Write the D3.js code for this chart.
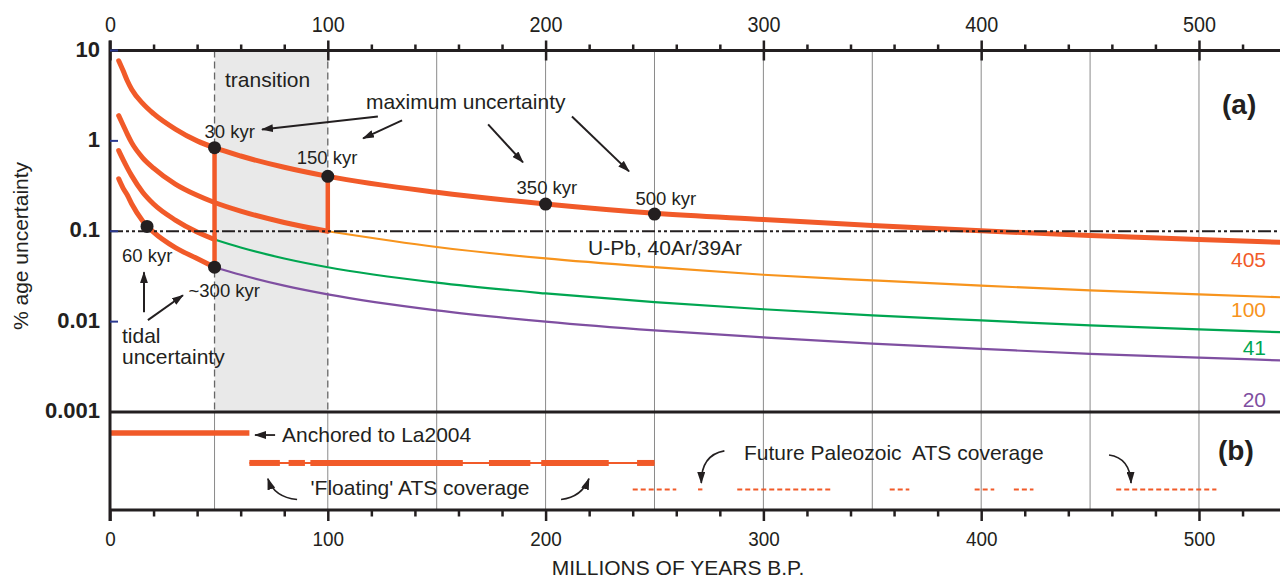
<!DOCTYPE html>
<html lang="en">
<head>
<meta charset="UTF-8" />
<title>Percent age uncertainty vs. age</title>
<script src="https://d3js.org/d3.v7.min.js"></script>
<style>
  body { margin: 0; background: #fff; }
  svg { font-family: "Liberation Sans", Arial, sans-serif; }
  svg text { fill: #231f20; }
</style>
</head>
<body>
<div id="chart"></div>
<script>
const ages    = [4, 6, 8, 10, 15, 20, 30, 40, 48, 60, 80, 100, 150, 200, 250, 300, 350, 400, 450, 500, 540];
const unc405  = [7.7, 6.0, 4.6, 3.7, 2.6, 2.0, 1.35, 1.0, 0.84, 0.68, 0.51, 0.405, 0.27, 0.2, 0.158, 0.135, 0.116, 0.101, 0.09, 0.081, 0.075];
const unc100  = [1.9, 1.5, 1.18, 0.95, 0.65, 0.5, 0.333, 0.25, 0.208, 0.167, 0.125, 0.1, 0.067, 0.05, 0.04, 0.033, 0.0286, 0.025, 0.0222, 0.02, 0.0185];
const unc41   = [0.78, 0.62, 0.5, 0.41, 0.27, 0.2, 0.133, 0.098, 0.081, 0.066, 0.05, 0.04, 0.027, 0.0205, 0.0164, 0.0137, 0.0117, 0.0103, 0.0091, 0.0082, 0.0076];
const unc20   = [0.38, 0.3, 0.25, 0.2, 0.13, 0.098, 0.066, 0.05, 0.04, 0.033, 0.025, 0.02, 0.0133, 0.01, 0.008, 0.0067, 0.0057, 0.005, 0.0044, 0.004, 0.0037];
const periods = ["405", "100", "41", "20"];
const thickTo = [540, 100, 48, 48];   // age where the tuned (red) part ends

// marked points: age, % uncertainty, label
const dotAges   = [48, 100, 200, 250, 17, 48];
const dotValues = [0.84, 0.405, 0.2, 0.155, 0.113, 0.04];
const dotLabels = ["30 kyr", "150 kyr", "350 kyr", "500 kyr", "60 kyr", "~300 kyr"];

// panel (b) coverage, in Ma
const anchored  = [[0, 64]];
const floatSpan = [64, 250];
const floating  = [[64, 78], [82, 89.5], [92, 162], [174, 193], [198, 229], [242, 250]];
const future    = [[240, 260], [270, 272], [288, 332], [358, 367], [397, 406], [415, 424], [462, 508]];

const transition = [48, 100];
const radioLevel = 0.1;
const decades = [10, 1, 0.1, 0.01, 0.001];
const xMajor = [0, 100, 200, 300, 400, 500];

const W = 1280, H = 578;
const RED = "#f15a29", INK = "#231f20";
const colors = [RED, "#f7941d", "#00a651", "#7f4fa1"];

const x = d3.scaleLinear().domain([0, 537.2]).range([110, 1280]);
const y = d3.scaleLog().domain([0.001, 10]).range([412, 50.5]);
const yTop = y(10), yMid = y(0.001), yBot = 510;
const yb = d3.scaleLinear().domain([0, 1]).range([yMid, yBot]);

const svg = d3.select("#chart").append("svg").attr("width", W).attr("height", H);

const defs = svg.append("defs");
defs.append("marker").attr("id", "head")
  .attr("viewBox", "0 0 12 8").attr("refX", 11).attr("refY", 4)
  .attr("markerWidth", 12).attr("markerHeight", 8)
  .attr("markerUnits", "userSpaceOnUse").attr("orient", "auto")
  .append("path").attr("d", "M0,0L12,4L0,8Z").attr("fill", INK);

// transition band + grid
svg.append("rect")
  .attr("x", x(transition[0])).attr("y", yTop)
  .attr("width", x(transition[1]) - x(transition[0])).attr("height", yMid - yTop)
  .attr("fill", "#e9e9e9");

const gridA = d3.range(150, 501, 50);
svg.selectAll(".gridA").data(gridA).join("line")
  .attr("x1", d => x(d)).attr("x2", d => x(d)).attr("y1", yTop).attr("y2", yMid)
  .attr("stroke", "#8a8a8a").attr("stroke-width", 1);
svg.selectAll(".gridT").data(transition).join("line")
  .attr("x1", d => x(d)).attr("x2", d => x(d)).attr("y1", yTop).attr("y2", yMid)
  .attr("stroke", "#666").attr("stroke-width", 1.3).attr("stroke-dasharray", "7,4");
svg.selectAll(".gridB").data(transition.concat(gridA)).join("line")
  .attr("x1", d => x(d)).attr("x2", d => x(d)).attr("y1", yMid).attr("y2", yBot)
  .attr("stroke", "#8a8a8a").attr("stroke-width", 1);

// curves
const line = d3.line().x(d => x(d[0])).y(d => y(d[1])).curve(d3.curveMonotoneX);
const series = [unc405, unc100, unc41, unc20].map((vals, i) => ({
  period: periods[i],
  color: colors[i],
  pts: ages.map((a, j) => [a, vals[j]]),
  cut: thickTo[i]
}));

series.forEach(s => {
  const thin = s.pts.filter(p => p[0] >= s.cut);
  if (thin.length > 1) {
    svg.append("path").attr("d", line(thin)).attr("fill", "none")
      .attr("stroke", s.color).attr("stroke-width", 2.2);
  }
});
series.forEach(s => {
  svg.append("path").attr("d", line(s.pts.filter(p => p[0] <= s.cut))).attr("fill", "none")
    .attr("stroke", RED).attr("stroke-width", 5).attr("stroke-linecap", "round");
});

// vertical red steps at the transition edges
const stepLines = [[48, 0.84, 0.04], [100, 0.405, 0.1]];
svg.selectAll(".step").data(stepLines).join("line")
  .attr("x1", d => x(d[0])).attr("x2", d => x(d[0]))
  .attr("y1", d => y(d[1])).attr("y2", d => y(d[2]))
  .attr("stroke", RED).attr("stroke-width", 4.5);

// radiometric level
svg.append("line")
  .attr("x1", x(0)).attr("x2", W).attr("y1", y(radioLevel)).attr("y2", y(radioLevel))
  .attr("stroke", INK).attr("stroke-width", 2.2).attr("stroke-dasharray", "13,3,3,3,3,3");

// dots + labels
const dotOffsets = [[-10, -10], [-31, -12], [-29, -10.5], [-19, -9], [-25, 36], [-26, 29.5]];
dotAges.forEach((a, i) => {
  svg.append("circle").attr("cx", x(a)).attr("cy", y(dotValues[i])).attr("r", 6.5).attr("fill", INK);
  svg.append("text").attr("x", x(a) + dotOffsets[i][0]).attr("y", y(dotValues[i]) + dotOffsets[i][1])
    .attr("font-size", 18.5).text(dotLabels[i]);
});

// series labels on the right
const labelDy = [24, 20, 23, 46];
series.forEach((s, i) => {
  const last = s.pts[s.pts.length - 1];
  svg.append("text").attr("x", 1266).attr("y", y(last[1]) + labelDy[i])
    .attr("text-anchor", "end").attr("font-size", 21).style("fill", s.color).text(s.period);
});

// annotations, panel (a)
const notesA = [
  ["transition", 52.8, 3.9], ["maximum uncertainty", 117.5, 2.23],
  ["U-Pb, 40Ar/39Ar", 219.5, 0.0543], ["tidal", 5.5, 0.0058], ["uncertainty", 5.5, 0.0034]
];
notesA.forEach(n => {
  svg.append("text").attr("x", x(n[1])).attr("y", y(n[2])).attr("font-size", 21).text(n[0]);
});
const arrowsA = [
  [123, 1.865, 69.8, 1.34], [134.1, 1.685, 116.2, 1.066],
  [173.6, 1.522, 189.6, 0.579], [212.1, 1.865, 238.3, 0.46],
  [15.6, 0.0127, 15.6, 0.0352], [17.4, 0.0104, 33.5, 0.0196]
];
svg.selectAll(".arrA").data(arrowsA).join("line")
  .attr("x1", d => x(d[0])).attr("y1", d => y(d[1]))
  .attr("x2", d => x(d[2])).attr("y2", d => y(d[3]))
  .attr("stroke", INK).attr("stroke-width", 2).attr("marker-end", "url(#head)");

svg.append("text").attr("x", 1222).attr("y", 114).attr("font-size", 28)
  .attr("font-weight", "bold").text("(a)");

// panel (b)
const rowAnch = 0.214, rowFloat = 0.52, rowFuture = 0.79;
svg.selectAll(".anch").data(anchored).join("line")
  .attr("x1", d => x(d[0])).attr("x2", d => x(d[1]))
  .attr("y1", yb(rowAnch)).attr("y2", yb(rowAnch))
  .attr("stroke", RED).attr("stroke-width", 5.5);
svg.append("line")
  .attr("x1", x(floatSpan[0])).attr("x2", x(floatSpan[1]))
  .attr("y1", yb(rowFloat)).attr("y2", yb(rowFloat))
  .attr("stroke", RED).attr("stroke-width", 2);
svg.selectAll(".float").data(floating).join("line")
  .attr("x1", d => x(d[0])).attr("x2", d => x(d[1]))
  .attr("y1", yb(rowFloat)).attr("y2", yb(rowFloat))
  .attr("stroke", RED).attr("stroke-width", 6);
svg.selectAll(".future").data(future).join("line")
  .attr("x1", d => x(d[0])).attr("x2", d => x(d[1]))
  .attr("y1", yb(rowFuture)).attr("y2", yb(rowFuture))
  .attr("stroke", RED).attr("stroke-width", 2).attr("stroke-dasharray", "5,3");

const notesB = [
  ["Anchored to La2004", 79, 0.311], ["'Floating' ATS coverage", 92.1, 0.847],
  ["Future Paleozoic  ATS coverage", 291.1, 0.485]
];
notesB.forEach(n => {
  svg.append("text").attr("x", x(n[1])).attr("y", yb(n[2])).attr("font-size", 21)
    .style("white-space", "pre").text(n[0]);
});
svg.append("line")
  .attr("x1", x(75.8)).attr("x2", x(66.6)).attr("y1", yb(0.235)).attr("y2", yb(0.235))
  .attr("stroke", INK).attr("stroke-width", 1.8).attr("marker-end", "url(#head)");
const arrowsB = [
  [85.9, 0.893, 75.3, 0.867, 72.5, 0.68],
  [207.1, 0.893, 216.7, 0.867, 219.9, 0.68],
  [282.1, 0.397, 271.4, 0.439, 271.5, 0.724],
  [458.7, 0.439, 468.3, 0.469, 468.8, 0.724]
];
svg.selectAll(".arrB").data(arrowsB).join("path")
  .attr("d", d => `M${x(d[0])},${yb(d[1])}Q${x(d[2])},${yb(d[3])} ${x(d[4])},${yb(d[5])}`)
  .attr("fill", "none").attr("stroke", INK).attr("stroke-width", 1.6)
  .attr("marker-end", "url(#head)");

svg.append("text").attr("x", 1218).attr("y", 460).attr("font-size", 28)
  .attr("font-weight", "bold").text("(b)");

// frame
const frame = [[x(0), yTop, W, yTop], [x(0), yMid, W, yMid], [x(0), yBot, W, yBot], [x(0), yTop - 10, x(0), yBot + 11]];
svg.selectAll(".frame").data(frame).join("line")
  .attr("x1", d => d[0]).attr("y1", d => d[1]).attr("x2", d => d[2]).attr("y2", d => d[3])
  .attr("stroke", INK).attr("stroke-width", 3);

// axes
const minor = d3.range(0, 541, 20).filter(d => d % 100 !== 0);
function styleAxis(g) {
  g.select(".domain").remove();
  g.attr("font-family", null).attr("font-size", null);
  g.selectAll("line").attr("stroke", INK).attr("stroke-width", 2.5);
}
svg.append("g").attr("transform", `translate(0,${yTop})`)
  .call(d3.axisTop(x).tickValues(minor).tickSize(6).tickFormat(""))
  .call(styleAxis);
svg.append("g").attr("transform", `translate(0,${yTop})`)
  .call(d3.axisTop(x).tickValues(xMajor).tickSize(10).tickPadding(8.5))
  .call(styleAxis)
  .call(g => g.selectAll(".tick line").attr("y2", -10).attr("y1", 10))
  .call(g => g.selectAll("text").attr("font-size", 22).attr("transform", "scale(0.9,1)"));

svg.append("g").attr("transform", `translate(0,${yBot})`)
  .call(d3.axisBottom(x).tickValues(minor).tickSize(6.5).tickFormat(""))
  .call(styleAxis);
svg.append("g").attr("transform", `translate(0,${yBot})`)
  .call(d3.axisBottom(x).tickValues(xMajor).tickSize(11).tickPadding(10))
  .call(styleAxis)
  .call(g => g.selectAll("text").attr("font-size", 21).attr("transform", "scale(0.9,1)"));

svg.append("g").attr("transform", `translate(${x(0)},0)`)
  .call(d3.axisLeft(y).tickValues(decades).tickSize(0).tickPadding(10).tickFormat(d3.format("~g")))
  .call(styleAxis)
  .call(g => g.selectAll("text").attr("font-size", 22).attr("font-weight", "bold").attr("dy", "0.26em"));

// small blue inner ticks on the log axis
svg.selectAll(".blue").data(decades.slice(0, 4)).join("line")
  .attr("x1", x(0)).attr("x2", x(0) + 8).attr("y1", d => y(d)).attr("y2", d => y(d))
  .attr("stroke", "#2b3990").attr("stroke-width", 2);

svg.append("text").attr("transform", `translate(28,${(162 + 330) / 2}) rotate(-90)`)
  .attr("text-anchor", "middle").attr("font-size", 21).text("% age uncertainty");
svg.append("text").attr("x", 678).attr("y", 575)
  .attr("text-anchor", "middle").attr("font-size", 21).text("MILLIONS OF YEARS B.P.");
</script>
</body>
</html>
